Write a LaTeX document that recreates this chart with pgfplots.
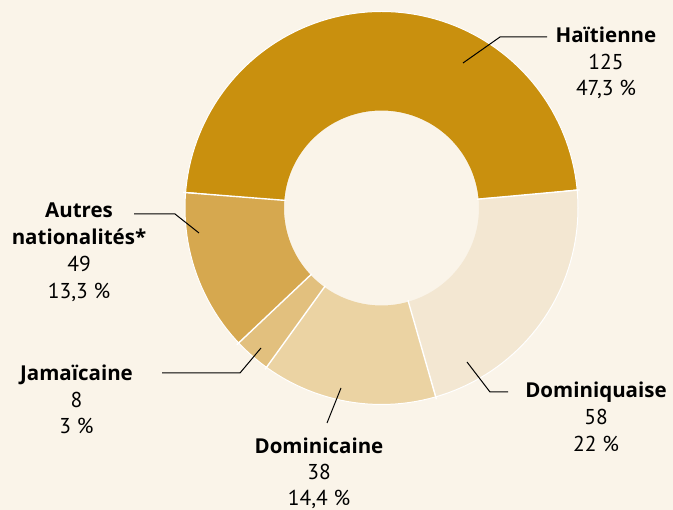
\documentclass[border=0pt]{standalone}
\usepackage{pgfplots}
\pgfplotsset{compat=1.18}
\usepackage{fontspec}
\setmainfont{PT Sans}
\newfontfamily\labfont{Open Sans}
\definecolor{bg}{HTML}{FAF4E9}
\definecolor{cH}{HTML}{C9900E}
\definecolor{cDq}{HTML}{F3E7D2}
\definecolor{cDc}{HTML}{EBD3A3}
\definecolor{cJ}{HTML}{E2C07E}
\definecolor{cA}{HTML}{D6A84F}
% shares in percent (as printed)
\def\pH{47.3}\def\pDq{22}\def\pDc{14.4}\def\pJ{3}\def\pA{13.3}
\pgfmathsetmacro\tA{175.5}
\pgfmathsetmacro\tB{\tA-3.6*\pH}
\pgfmathsetmacro\tC{\tB-3.6*\pDq}
\pgfmathsetmacro\tD{\tC-3.6*\pDc}
\pgfmathsetmacro\tE{\tD-3.6*\pJ}
\pgfmathsetmacro\tF{\tE-3.6*\pA}
\def\cx{381.5}\def\cy{302}
\tikzset{lab/.style={font=\fontsize{21.5}{25}\selectfont, anchor=base, inner sep=0pt},
  nam/.style={font=\fontsize{20.5}{25}\selectfont\labfont\bfseries, anchor=base, inner sep=0pt}}
\begin{document}
\begin{tikzpicture}
\fill[bg] (0,0) rectangle (673pt,510pt);
\begin{axis}[name=ax, x=1pt, y=1pt, xmin=0, xmax=673, ymin=0, ymax=510,
  hide axis, clip=false, anchor=south west, at={(0,0)}]
% ring slices
\addplot[cH, line width=99pt, domain=\tB:\tA, samples=90, variable=\t] ({\cx+147*cos(t)},{\cy+147*sin(t)});
\addplot[cDq, line width=99pt, domain=\tC:\tB, samples=50, variable=\t] ({\cx+147*cos(t)},{\cy+147*sin(t)});
\addplot[cDc, line width=99pt, domain=\tD:\tC, samples=40, variable=\t] ({\cx+147*cos(t)},{\cy+147*sin(t)});
\addplot[cJ, line width=99pt, domain=\tE:\tD, samples=10, variable=\t] ({\cx+147*cos(t)},{\cy+147*sin(t)});
\addplot[cA, line width=99pt, domain=\tF:\tE, samples=40, variable=\t] ({\cx+147*cos(t)},{\cy+147*sin(t)});
% white outline and separators
\addplot[white, line width=1pt, domain=0:360, samples=181, variable=\t] ({\cx+196.5*cos(t)},{\cy+196.5*sin(t)});
\foreach \a in {\tA,\tB,\tC,\tD,\tE}{
  \addplot[white, line width=1.4pt, domain=96:199, samples=2, variable=\r] ({\cx+r*cos(\a)},{\cy+r*sin(\a)});
}
% leader lines
\addplot[black, line width=1pt] coordinates {(463,447) (500,473) (547,473)};
\addplot[black, line width=1pt] coordinates {(134,296) (175,296) (199,277)};
\addplot[black, line width=1pt] coordinates {(162,137) (240,137) (261,162)};
\addplot[black, line width=1pt] coordinates {(341,122) (327,87)};
\addplot[black, line width=1pt] coordinates {(467,148) (490,118) (508,118)};
% labels
\node[nam] at (axis cs:606,467) {Haïtienne};
\node[lab] at (axis cs:606,440) {125};
\node[lab] at (axis cs:606,414) {47,3 \%};
\node[nam] at (axis cs:79,292) {Autres};
\node[nam] at (axis cs:79,265) {nationalités*};
\node[lab] at (axis cs:79,238) {49};
\node[lab] at (axis cs:79,211) {13,3 \%};
\node[nam] at (axis cs:76.5,129) {Jamaïcaine};
\node[lab] at (axis cs:76.5,102) {8};
\node[lab] at (axis cs:76.5,76) {3 \%};
\node[nam] at (axis cs:319,56) {Dominicaine};
\node[lab] at (axis cs:319,30) {38};
\node[lab] at (axis cs:319,4.5) {14,4 \%};
\node[nam] at (axis cs:596,112) {Dominiquaise};
\node[lab] at (axis cs:596,85) {58};
\node[lab] at (axis cs:596,58) {22 \%};
\end{axis}
\pgfresetboundingbox
\path (0,0) rectangle (673pt,510pt);
\end{tikzpicture}
\end{document}
